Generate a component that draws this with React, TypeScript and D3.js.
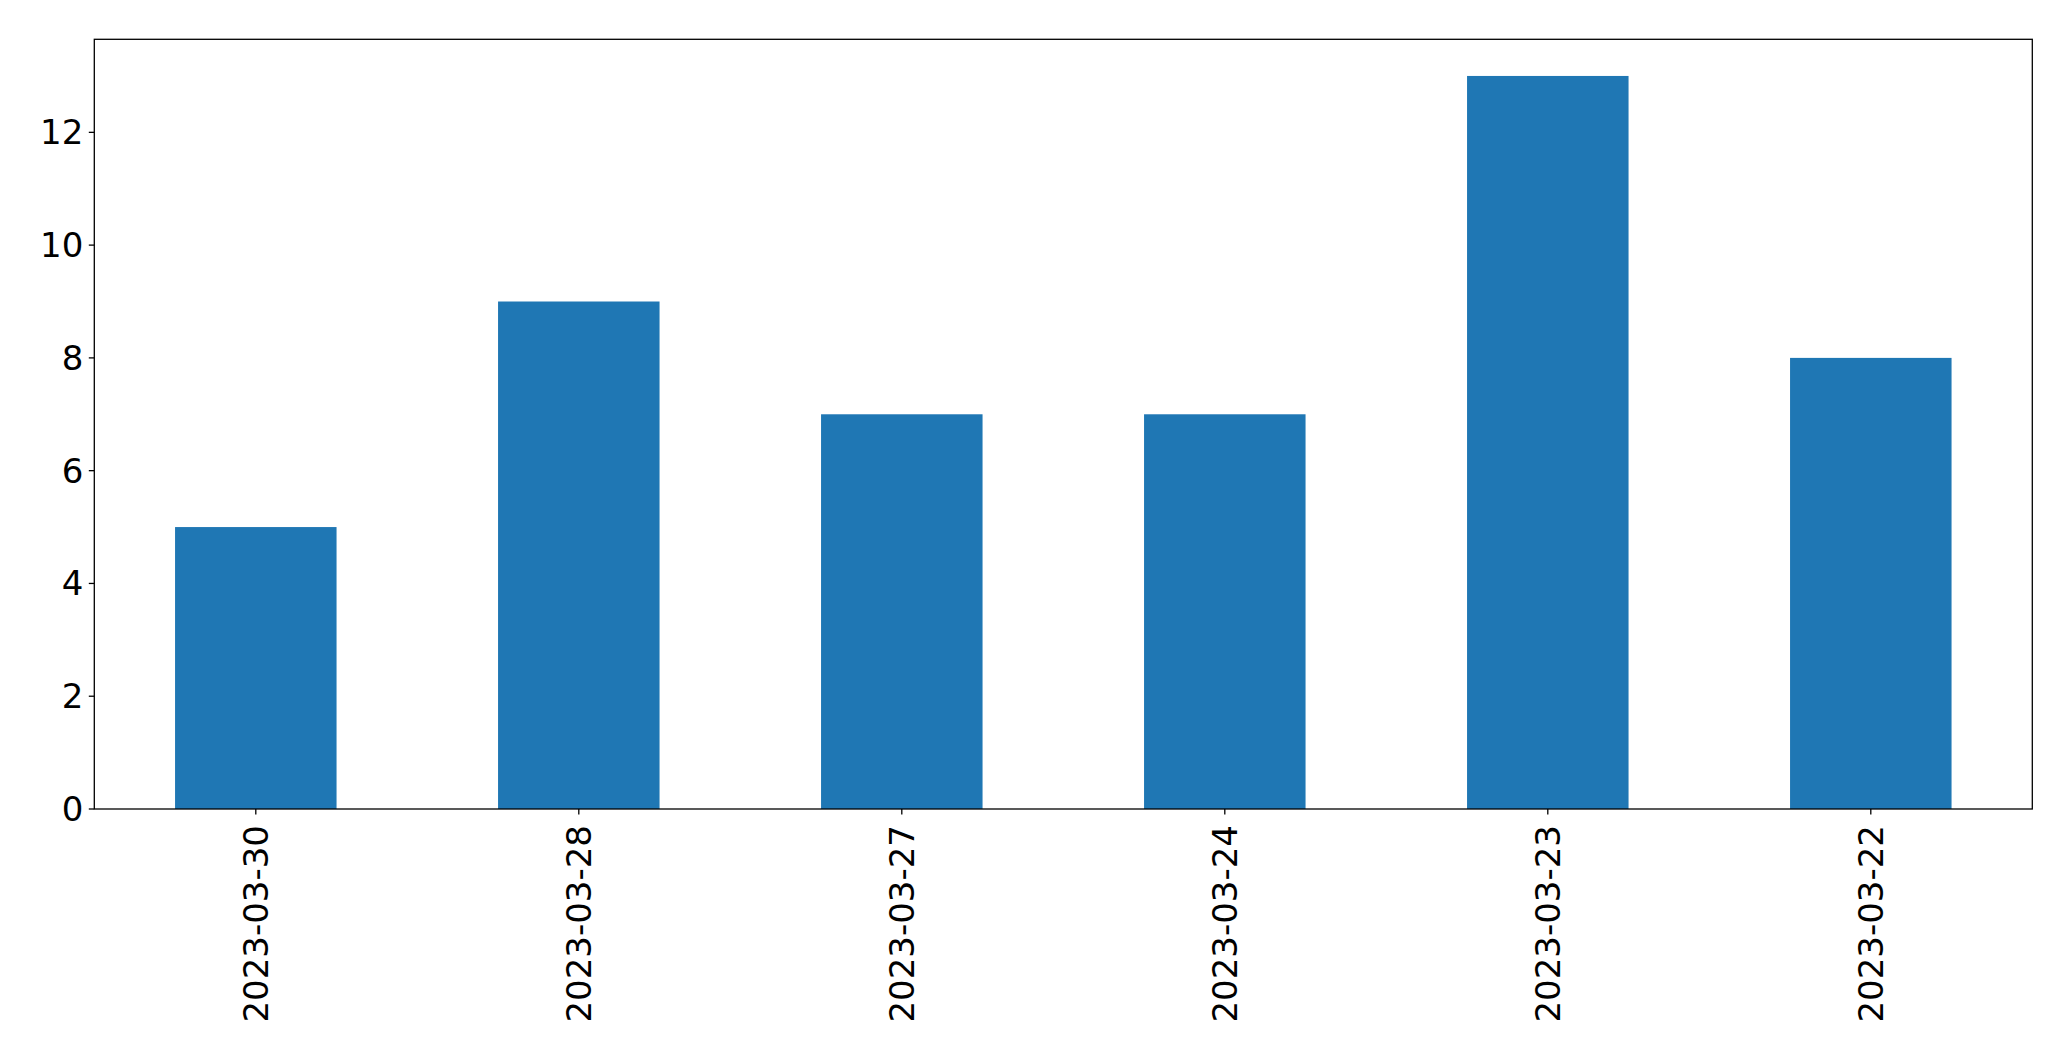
import React from "react";
import * as d3 from "d3";

const categories = ["2023-03-30", "2023-03-28", "2023-03-27", "2023-03-24", "2023-03-23", "2023-03-22"];
const counts = [5, 9, 7, 7, 13, 8];
const yTicks = [0, 2, 4, 6, 8, 10, 12];

const W = 2071;
const H = 1061;
const M = { left: 94.3, top: 39.3, right: 2032.3, bottom: 809 };
const FONT = "'DejaVu Sans', sans-serif";
const FS = 34;

export default function App() {
  const n = categories.length;
  const x = d3.scaleLinear().domain([-0.5, n - 0.5]).range([M.left, M.right]);
  const yMax = d3.max(counts)! * 1.05;
  const y = d3.scaleLinear().domain([0, yMax]).range([M.bottom, M.top]);
  const bw = x(0.25) - x(-0.25);
  return (
    <svg width={W} height={H} style={{ position: "absolute", left: 0, top: 0, background: "#fff" }}>
      <rect x={0} y={0} width={W} height={H} fill="#fff" />
      {counts.map((v, i) => (
        <rect key={i} x={x(i) - bw / 2} y={y(v)} width={bw} height={y(0) - y(v)} fill="#1f77b4" />
      ))}
      <rect x={M.left} y={M.top} width={M.right - M.left} height={M.bottom - M.top} fill="none" stroke="#000" strokeWidth={1.3} />
      {yTicks.map((t) => (
        <g key={t}>
          <line x1={M.left - 5.5} x2={M.left} y1={y(t)} y2={y(t)} stroke="#000" strokeWidth={1.3} />
          <text x={M.left - 11} y={y(t)} textAnchor="end" dominantBaseline="central" fontFamily={FONT} fontSize={FS} fill="#000">
            {t}
          </text>
        </g>
      ))}
      {categories.map((c, i) => (
        <g key={c}>
          <line x1={x(i)} x2={x(i)} y1={M.bottom} y2={M.bottom + 5.5} stroke="#000" strokeWidth={1.3} />
          <text
            transform={`translate(${x(i)},${M.bottom + 16}) rotate(-90)`}
            textAnchor="end"
            dominantBaseline="central"
            fontFamily={FONT}
            fontSize={FS}
            fill="#000"
          >
            {c}
          </text>
        </g>
      ))}
    </svg>
  );
}
